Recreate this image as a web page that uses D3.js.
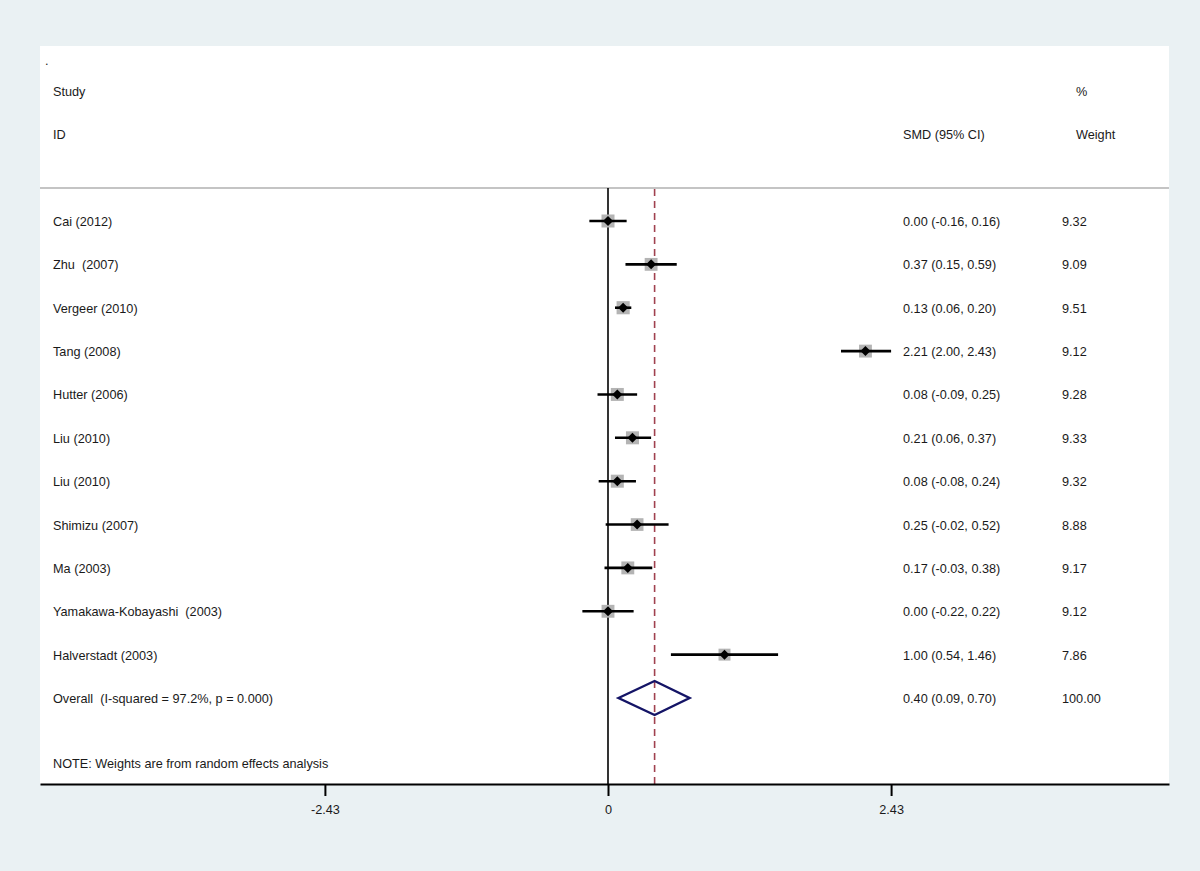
<!DOCTYPE html>
<html>
<head>
<meta charset="utf-8">
<script src="https://cdn.jsdelivr.net/npm/d3@7"></script>
<style>
  body { margin: 0; background: #eaf1f3; }
  svg { display: block; }
  text { white-space: pre; }
</style>
</head>
<body>
<div id="chart"></div>
<script>
// study data
const studies = ["Cai (2012)", "Zhu  (2007)", "Vergeer (2010)", "Tang (2008)", "Hutter (2006)",
  "Liu (2010)", "Liu (2010)", "Shimizu (2007)", "Ma (2003)", "Yamakawa-Kobayashi  (2003)", "Halverstadt (2003)"];
const smd   = [0.00, 0.37, 0.13, 2.21, 0.08, 0.21, 0.08, 0.25, 0.17, 0.00, 1.00];
const lower = [-0.16, 0.15, 0.06, 2.00, -0.09, 0.06, -0.08, -0.02, -0.03, -0.22, 0.54];
const upper = [0.16, 0.59, 0.20, 2.43, 0.25, 0.37, 0.24, 0.52, 0.38, 0.22, 1.46];
const weights = [9.32, 9.09, 9.51, 9.12, 9.28, 9.33, 9.32, 8.88, 9.17, 9.12, 7.86];
const overall = { label: "Overall  (I-squared = 97.2%, p = 0.000)", est: 0.40, lo: 0.09, hi: 0.70, w: 100.00 };
const tickValues = [-2.43, 0, 2.43];

const width = 1200, height = 871;
const panel = { left: 40, right: 1169, top: 46, bottom: 784 };
const zeroX = 608, pxPerUnit = 116.5;
const font = "'Liberation Sans', Arial, Helvetica, sans-serif";
const fontSize = "12.7px";

const svg = d3.select("#chart").append("svg")
    .attr("width", width)
    .attr("height", height)
    .style("font-family", font)
    .style("font-size", fontSize);

svg.append("rect")
    .attr("width", width).attr("height", height)
    .attr("fill", "#eaf1f3");

svg.append("rect")
    .attr("x", panel.left).attr("y", panel.top)
    .attr("width", panel.right - panel.left)
    .attr("height", panel.bottom - panel.top)
    .attr("fill", "#fff");

// x scale: 0 sits at zeroX
const x = d3.scaleLinear()
    .domain([(panel.left - zeroX) / pxPerUnit, (panel.right - zeroX) / pxPerUnit])
    .range([panel.left, panel.right]);

// row positions
const rows = studies.map((s, i) => i).concat([studies.length]);
const y = d3.scalePoint()
    .domain(rows)
    .range([221, 698]);

const textColor = "#1a1a1a";
const fmt = v => v.toFixed(2);

// header
const header = svg.append("g").attr("fill", textColor);
header.append("text").attr("x", 45).attr("y", 65).text(".");
header.append("text").attr("x", 53).attr("y", 96).text("Study");
header.append("text").attr("x", 53).attr("y", 139).text("ID");
header.append("text").attr("x", 903).attr("y", 139).text("SMD (95% CI)");
header.append("text").attr("x", 1076).attr("y", 96).text("%");
header.append("text").attr("x", 1076).attr("y", 139).text("Weight");

svg.append("line")
    .attr("x1", panel.left).attr("x2", panel.right)
    .attr("y1", 188).attr("y2", 188)
    .attr("stroke", "#c4c4c4").attr("stroke-width", 2);

// zero line
svg.append("line")
    .attr("x1", x(0)).attr("x2", x(0))
    .attr("y1", 188).attr("y2", panel.bottom)
    .attr("stroke", "#000").attr("stroke-width", 1.6);

// overall effect dashed line
svg.append("line")
    .attr("x1", x(overall.est)).attr("x2", x(overall.est))
    .attr("y1", 189).attr("y2", panel.bottom)
    .attr("stroke", "#a0414f").attr("stroke-width", 1.6)
    .attr("stroke-dasharray", "7,5");

// study rows
const data = studies.map((s, i) => ({ s, est: smd[i], lo: lower[i], hi: upper[i], w: weights[i], i }));

const g = svg.append("g").selectAll("g")
  .data(data)
  .join("g")
    .attr("transform", d => `translate(0,${y(d.i)})`);

g.append("rect")
    .attr("x", d => x(d.est) - 2.13 * Math.sqrt(d.w))
    .attr("y", d => -2.13 * Math.sqrt(d.w))
    .attr("width", d => 4.26 * Math.sqrt(d.w))
    .attr("height", d => 4.26 * Math.sqrt(d.w))
    .attr("fill", "#b4b4b4");

g.append("line")
    .attr("x1", d => x(d.lo)).attr("x2", d => x(d.hi))
    .attr("stroke", "#000").attr("stroke-width", 2.6);

g.append("path")
    .attr("d", d => `M${x(d.est) - 5},0L${x(d.est)},-5L${x(d.est) + 5},0L${x(d.est)},5Z`)
    .attr("fill", "#000");

g.append("text").attr("x", 53).attr("y", 5).attr("fill", textColor).text(d => d.s);
g.append("text").attr("x", 903).attr("y", 5).attr("fill", textColor)
    .text(d => `${fmt(d.est)} (${fmt(d.lo)}, ${fmt(d.hi)})`);
g.append("text").attr("x", 1062).attr("y", 5).attr("fill", textColor).text(d => fmt(d.w));

// overall row
const oy = y(studies.length);
svg.append("path")
    .attr("d", `M${x(overall.lo)},${oy}L${x(overall.est)},${oy - 17}L${x(overall.hi)},${oy}L${x(overall.est)},${oy + 17}Z`)
    .attr("fill", "none")
    .attr("stroke", "#141466").attr("stroke-width", 2.4);
svg.append("text").attr("x", 53).attr("y", oy + 5).attr("fill", textColor).text(overall.label);
svg.append("text").attr("x", 903).attr("y", oy + 5).attr("fill", textColor)
    .text(`${fmt(overall.est)} (${fmt(overall.lo)}, ${fmt(overall.hi)})`);
svg.append("text").attr("x", 1062).attr("y", oy + 5).attr("fill", textColor).text(fmt(overall.w));

svg.append("text").attr("x", 53).attr("y", 768).attr("fill", textColor)
    .text("NOTE: Weights are from random effects analysis");

// axis
const axis = svg.append("g")
    .attr("transform", `translate(0,${panel.bottom})`)
    .call(d3.axisBottom(x).tickValues(tickValues).tickSize(12).tickSizeOuter(0).tickPadding(9)
      .tickFormat(d => d === 0 ? "0" : fmt(d)));
axis.select(".domain").attr("stroke", "#000").attr("stroke-width", 2);
axis.selectAll(".tick line").attr("stroke", "#000").attr("stroke-width", 2);
axis.selectAll(".tick text")
    .attr("fill", textColor)
    .style("font-family", font)
    .style("font-size", fontSize);
</script>
</body>
</html>
